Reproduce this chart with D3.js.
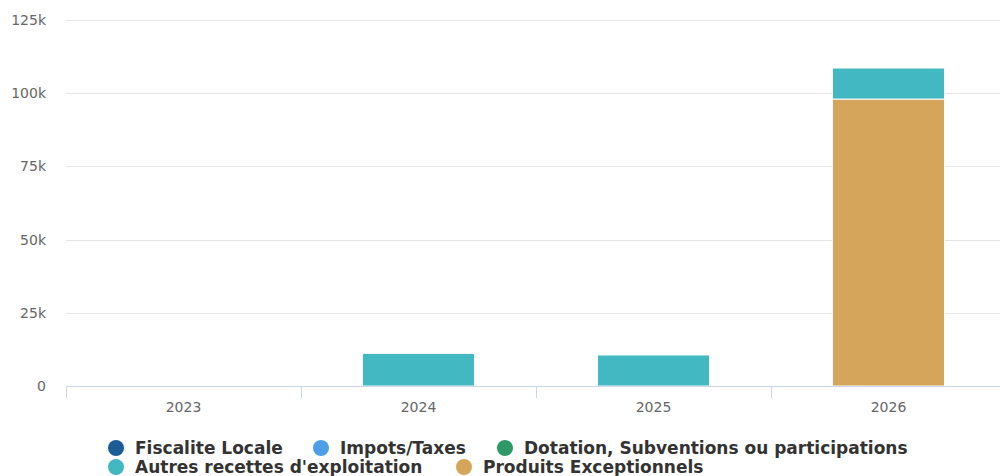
<!DOCTYPE html>
<html>
<head>
<meta charset="utf-8">
<script src="https://cdn.jsdelivr.net/npm/d3@7"></script>
<style>
  html, body { margin: 0; padding: 0; background: #fff; }
  svg { display: block; font-family: "DejaVu Sans", sans-serif; }
</style>
</head>
<body>
<svg id="chart" width="1000" height="476"></svg>
<script>
// Yearly revenue by category (stacked columns)
const years = ["2023", "2024", "2025", "2026"];
const seriesNames = [
  "Fiscalite Locale",
  "Impots/Taxes",
  "Dotation, Subventions ou participations",
  "Autres recettes d'exploitation",
  "Produits Exceptionnels"
];
const seriesColors = ["#1d5b97", "#4c9ee6", "#2e9966", "#42b9c2", "#d4a55a"];
const fiscaliteLocale = [0, 0, 0, 0];
const impotsTaxes = [0, 0, 0, 0];
const dotation = [0, 0, 0, 0];
const autresRecettes = [0, 11150, 10600, 10600];
const produitsExceptionnels = [0, 0, 0, 98000];
const yTicks = [0, 25000, 50000, 75000, 100000, 125000];

const seriesValues = [fiscaliteLocale, impotsTaxes, dotation, autresRecettes, produitsExceptionnels];

const svg = d3.select("#chart");
const W = 1000;
const plot = { left: 66, right: 1006, top: 20, bottom: 386 };

const x = d3.scaleBand().domain(years).range([plot.left, plot.right]);
const y = d3.scaleLinear().domain([0, 125000]).range([plot.bottom, plot.top]);

// gridlines
svg.append("g").selectAll("line").data(yTicks.filter(d => d > 0)).join("line")
  .attr("x1", plot.left).attr("x2", W)
  .attr("y1", d => Math.round(y(d)) + 0.5).attr("y2", d => Math.round(y(d)) + 0.5)
  .attr("stroke", "#e6e6e6").attr("stroke-width", 1);

// y labels
svg.append("g").selectAll("text").data(yTicks).join("text")
  .attr("x", 46).attr("y", d => y(d) + 5)
  .attr("text-anchor", "end")
  .attr("fill", "#666").attr("font-size", 14)
  .text(d => d === 0 ? "0" : d3.format("d")(d / 1000) + "k");

// stacked bars: first series on top, last at the bottom
const rows = years.map((yr, i) => {
  const r = { year: yr };
  seriesNames.forEach((n, s) => r[n] = seriesValues[s][i]);
  return r;
});
const stack = d3.stack().keys(seriesNames.slice().reverse());
const layers = stack(rows);

const barW = x.bandwidth() * 0.477;
svg.append("g").selectAll("g").data(layers).join("g")
  .attr("fill", d => seriesColors[seriesNames.indexOf(d.key)])
  .selectAll("rect").data(d => d.filter(p => p[1] - p[0] > 0)).join("rect")
  .attr("x", d => x(d.data.year) + (x.bandwidth() - barW) / 2)
  .attr("width", barW)
  .attr("y", d => y(d[1]))
  .attr("height", d => y(d[0]) - y(d[1]))
  .attr("stroke", "#fff").attr("stroke-width", 1);

// x axis line and ticks
svg.append("line")
  .attr("x1", plot.left).attr("x2", W)
  .attr("y1", plot.bottom + 0.5).attr("y2", plot.bottom + 0.5)
  .attr("stroke", "#ccd6eb");
svg.append("g").selectAll("line").data(years).join("line")
  .attr("x1", d => Math.round(x(d)) + 0.5).attr("x2", d => Math.round(x(d)) + 0.5)
  .attr("y1", plot.bottom).attr("y2", plot.bottom + 12)
  .attr("stroke", "#ccd6eb");
svg.append("g").selectAll("text").data(years).join("text")
  .attr("x", d => x(d) + x.bandwidth() / 2).attr("y", 412)
  .attr("text-anchor", "middle")
  .attr("fill", "#666").attr("font-size", 14)
  .text(d => d);

// legend
const legendPos = [
  { cx: 116, row: 0 }, { cx: 321, row: 0 }, { cx: 505, row: 0 },
  { cx: 116, row: 1 }, { cx: 464, row: 1 }
];
const legendRowY = [448, 467];
const lg = svg.append("g").selectAll("g").data(seriesNames).join("g")
  .attr("transform", (d, i) => `translate(${legendPos[i].cx},${legendRowY[legendPos[i].row]})`);
lg.append("circle").attr("r", 8).attr("fill", (d, i) => seriesColors[i]);
lg.append("text")
  .attr("x", 19).attr("y", 6)
  .attr("font-size", 17).attr("font-weight", "bold").attr("fill", "#333")
  .text(d => d);
</script>
</body>
</html>
